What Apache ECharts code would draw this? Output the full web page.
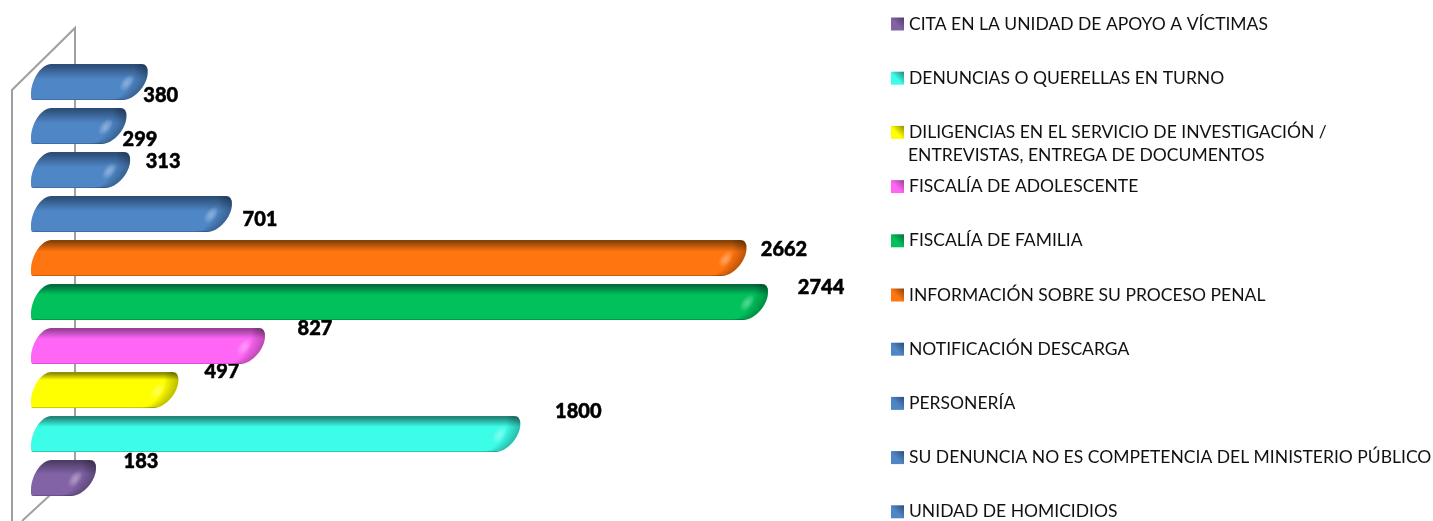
<!DOCTYPE html>
<html><head><meta charset="utf-8">
<style>html,body{margin:0;padding:0;background:#fff}#c{width:1433px;height:521px}</style>
<script src="https://cdn.jsdelivr.net/npm/echarts@6/dist/echarts.min.js"></script>
</head><body><div id="c"></div>
<script>
const categories = ['CITA EN LA UNIDAD DE APOYO A VÍCTIMAS','DENUNCIAS O QUERELLAS EN TURNO','DILIGENCIAS EN EL SERVICIO DE INVESTIGACIÓN /','FISCALÍA DE ADOLESCENTE','FISCALÍA DE FAMILIA','INFORMACIÓN SOBRE SU PROCESO PENAL','NOTIFICACIÓN DESCARGA','PERSONERÍA','SU DENUNCIA NO ES COMPETENCIA DEL MINISTERIO PÚBLICO','UNIDAD DE HOMICIDIOS'];
const values = [183,1800,497,827,2744,2662,701,313,299,380];
const midColors = ['#8264a6','#3cfde8','#ffff00','#ff66f5','#00c15c','#ff7510','#4f86c6','#4f86c6','#4f86c6','#4f86c6'];
const topColors = ['#4d3d66','#22857a','#8f8f00','#99409a','#006d3a','#864208','#2d4e78','#2d4e78','#2d4e78','#2d4e78'];
const fadeStops = [0.4,0.3,0.22,0.3,0.3,0.32,0.42,0.42,0.42,0.42];
const labelOffsets = [[45,-16],[58,-22],[43.6,-18],[50,-17],[53,-14],[37.5,-8],[28,6],[33,-8],[13.5,14],[13,14]];
const legendExtraLine = 'ENTREVISTAS, ENTREGA DE DOCUMENTOS';

function rightCurve(x1,y0,y1,s){
  return 'C'+(x1-s)+' '+(y0+21)+' '+(x1-13-s)+' '+y1+' '+(x1-25-s)+' '+y1;
}
function makeItem(idx){
  return function(params,api){
    const v=api.value(0), c=api.coord([v,api.value(1)]), base=api.coord([0,api.value(1)]);
    const band=api.size([0,1])[1], h=band*0.818;
    const y0=c[1]-h/2, y1=c[1]+h/2, x1=c[0], x0=base[0];
    const outline='M'+(x0+3)+' '+y0+'L'+(x1-6)+' '+y0+'Q'+x1+' '+y0+' '+x1+' '+(y0+8)+rightCurve(x1,y0,y1,0)
      +'L'+(x0-15)+' '+y1+'Q'+(x0-17)+' '+y1+' '+(x0-17)+' '+(y1-3)+'L'+(x0-17)+' '+(y1-8)
      +'C'+(x0-16)+' '+(y0+14)+' '+(x0-6)+' '+y0+' '+(x0+3)+' '+y0+'Z';
    const children=[{type:'path',shape:{pathData:outline},style:{
      fill:{type:'linear',x:0,y:0,x2:0,y2:1,colorStops:[
        {offset:0,color:topColors[idx]},{offset:0.04,color:topColors[idx]},
        {offset:fadeStops[idx],color:midColors[idx]},{offset:0.975,color:midColors[idx]},{offset:1,color:topColors[idx]}]},
      stroke:null}}];
    for(let k=1;k<=6;k++){
      const s=k*2.2;
      children.push({type:'path',shape:{pathData:
        'M'+(x1-6)+' '+y0+'Q'+x1+' '+y0+' '+x1+' '+(y0+8)+rightCurve(x1,y0,y1,0)
        +'L'+(x1-25-s)+' '+y1+'C'+(x1-13-s)+' '+y1+' '+(x1-s)+' '+(y0+21)+' '+(x1-s)+' '+(y0+8)
        +'L'+(x1-s)+' '+y0+'Z'},style:{fill:'rgba(0,0,0,0.045)'}});
    }
    for(let k=0;k<4;k++){
      children.push({type:'ellipse',shape:{cx:0,cy:0,rx:1.5+k*1.2,ry:3+k*2},x:x1-21,y:y0+19,rotation:-0.65,style:{fill:'rgba(255,255,255,0.09)'}});
    }
    const off=labelOffsets[idx];
    children.push({type:'text',x:x1+off[0],y:c[1]+off[1],style:{text:String(v),font:'900 20px Lato',fill:'#000',stroke:'#000',lineWidth:0.5,align:'center',verticalAlign:'middle'}});
    return {type:'group',children};
  };
}
const series=categories.map((name,i)=>({
  name,type:'custom',coordinateSystem:'cartesian2d',renderItem:makeItem(i),
  data:[[values[i],i]],encode:{x:0,y:1},itemStyle:{color:midColors[i]},z:3
}));
const legendData=categories.map((name,i)=>({name,itemStyle:{color:{type:'linear',x:0,y:1,x2:1,y2:0,colorStops:[
  {offset:0,color:midColors[i]},{offset:0.45,color:midColors[i]},{offset:1,color:topColors[i]}]}}}));
const wall='#a0a0a0';
const chart=echarts.init(document.getElementById('c'),null,{renderer:'canvas'});
chart.setOption({
  animation:false,backgroundColor:'#fff',
  grid:{left:48,top:60,width:787.2,height:440,containLabel:false},
  xAxis:{type:'value',min:0,max:3000,show:false},
  yAxis:{type:'category',data:categories,show:false},
  legend:{orient:'vertical',left:891,top:15,itemWidth:13,itemHeight:13,itemGap:36.2,icon:'rect',selectedMode:false,itemStyle:{borderWidth:0},
    data:legendData,textStyle:{fontFamily:'Lato',fontSize:17.5,color:'#111',lineHeight:16},
    padding:0},
  graphic:{elements:[
    {type:'polyline',z:0,silent:true,shape:{points:[[12,521],[12,90],[75,28],[75,472],[22,521]]},style:{stroke:wall,lineWidth:2,fill:null}},
    {type:'text',left:908,top:146,silent:true,style:{text:legendExtraLine,font:'17.5px Lato',fill:'#111'}}
  ]},
  series
});
</script></body></html>
